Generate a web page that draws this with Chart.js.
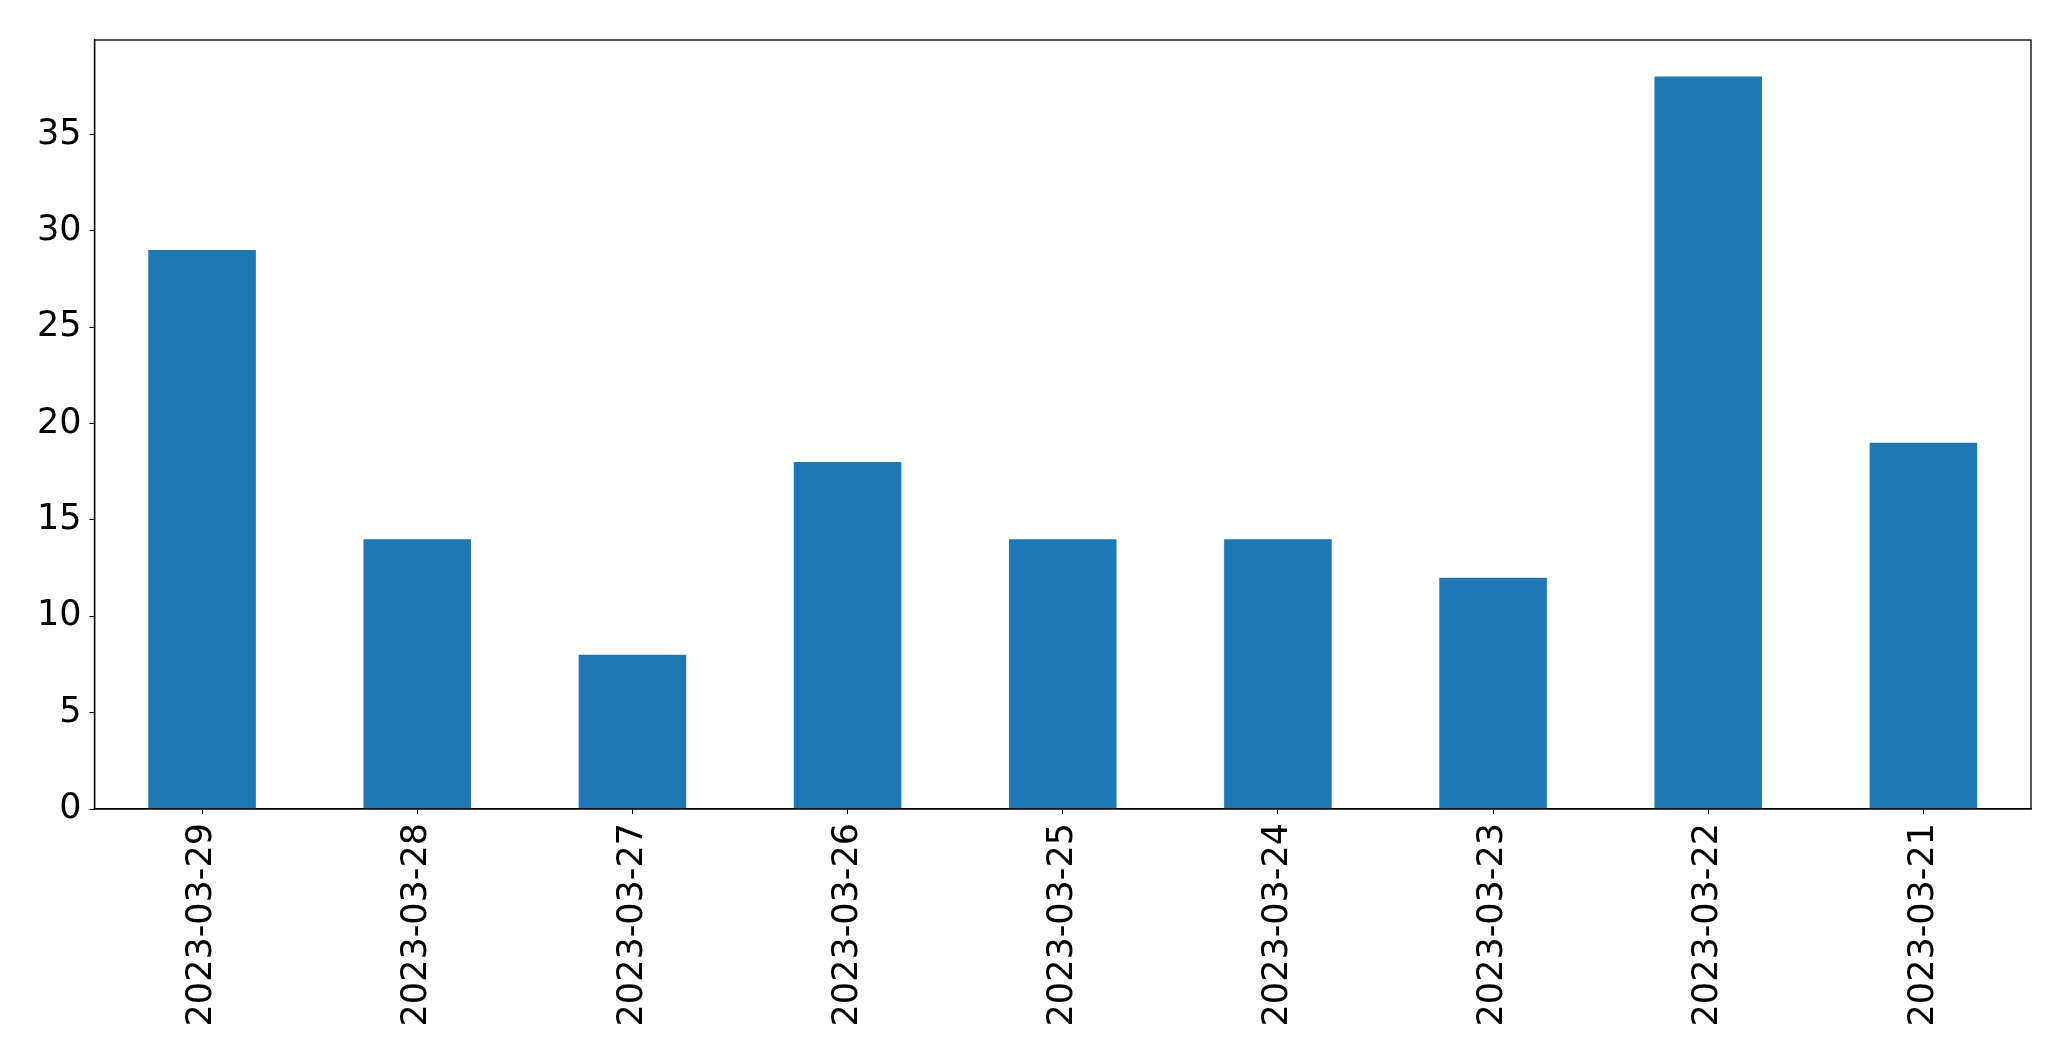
<!DOCTYPE html>
<html>
<head>
<meta charset="utf-8">
<script src="https://cdn.jsdelivr.net/npm/chart.js@4/dist/chart.umd.min.js"></script>
<style>
html,body{margin:0;padding:0;background:#fff;}
canvas{display:block;}
</style>
</head>
<body>
<canvas id="c" width="2071" height="1061"></canvas>
<script>
const categories = ["2023-03-29","2023-03-28","2023-03-27","2023-03-26","2023-03-25","2023-03-24","2023-03-23","2023-03-22","2023-03-21"];
const counts = [29, 14, 8, 18, 14, 14, 12, 38, 19];
const yTickStep = 5;
const yMax = 39.9;

const frame = {
  id: 'frame',
  afterDatasetsDraw(chart) {
    const a = chart.chartArea, ctx = chart.ctx;
    ctx.save();
    ctx.strokeStyle = '#000';
    ctx.lineWidth = 1.3;
    ctx.strokeRect(a.left, a.top, a.right - a.left, a.bottom - a.top);
    ctx.restore();
  }
};

new Chart(document.getElementById('c'), {
  type: 'bar',
  data: {
    labels: categories,
    datasets: [{
      data: counts,
      backgroundColor: '#1f77b4',
      barPercentage: 0.5,
      categoryPercentage: 1.0
    }]
  },
  options: {
    responsive: false,
    animation: false,
    devicePixelRatio: 1,
    layout: { padding: { left: 0, top: 40, right: 40, bottom: 0 } },
    plugins: { legend: { display: false }, tooltip: { enabled: false } },
    scales: {
      x: {
        grid: { display: true, offset: false, drawOnChartArea: false, drawTicks: true, tickLength: 5, tickColor: '#000' },
        border: { display: true, color: '#000', width: 1.3 },
        ticks: { color: '#000', font: { family: 'DejaVu Sans', size: 35 }, minRotation: 90, maxRotation: 90, padding: 9, autoSkip: false },
        afterFit(s) { s.height = 252; }
      },
      y: {
        min: 0, max: yMax,
        grid: { display: true, drawOnChartArea: false, drawTicks: true, tickLength: 5, tickColor: '#000' },
        border: { display: true, color: '#000', width: 1.3 },
        ticks: { stepSize: yTickStep, color: '#000', font: { family: 'DejaVu Sans', size: 35 }, padding: 8,
          callback: (v) => (v % yTickStep === 0 ? v : null) },
        afterFit(s) { s.width = 94.5; }
      }
    }
  },
  plugins: [frame]
});
</script>
</body>
</html>
